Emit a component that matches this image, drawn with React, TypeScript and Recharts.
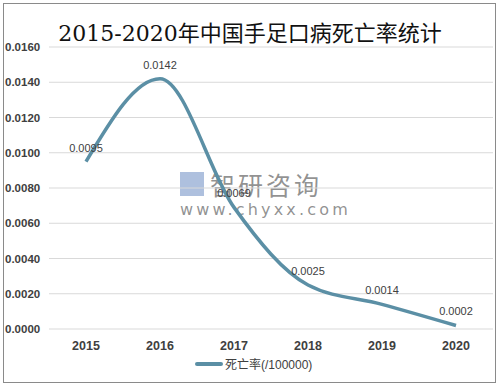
import { LineChart, Line, XAxis, YAxis, CartesianGrid, LabelList } from 'recharts';

const years = ['2015', '2016', '2017', '2018', '2019', '2020'];
const deathRate = [0.0095, 0.0142, 0.0069, 0.0025, 0.0014, 0.0002];
const yTicks = [0, 0.002, 0.004, 0.006, 0.008, 0.01, 0.012, 0.014, 0.016];

const data = years.map((year, i) => ({ year, rate: deathRate[i] }));

const LINE_COLOR = '#5b8fa5';

const YTick = (props: any) => {
    const { y, payload } = props;
    return (
        <text x={5} y={y} dy={4} fontSize={11.5} fontWeight="bold" fill="#404040" fontFamily="Liberation Sans, Arial, sans-serif">
            {payload.value.toFixed(4)}
        </text>
    );
};

const XTick = (props: any) => {
    const { x, y, payload } = props;
    return (
        <text x={x} y={y} dy={13} textAnchor="middle" fontSize={12.5} fontWeight="bold" fill="#404040" fontFamily="Liberation Sans, Arial, sans-serif">
            {payload.value}
        </text>
    );
};

export default function App() {
    return (
        <div style={{ position: 'absolute', left: 0, top: 0, width: 502, height: 386, background: '#fff' }}>
            <div style={{ position: 'absolute', left: 3, top: 3, width: 491, height: 378, border: '1.5px solid #8a8a8a' }} />
            <div style={{
                position: 'absolute', left: 0, top: 15, width: 500, textAlign: 'center',
                fontSize: 22, fontWeight: 'normal', color: '#111',
                fontFamily: '"DejaVu Serif", "Liberation Serif", "Noto Sans CJK SC", serif',
            }}>
                2015-2020年中国手足口病死亡率统计
            </div>
            {/* watermark */}
            <div style={{ position: 'absolute', left: 180, top: 166, color: 'rgba(110,110,110,0.75)', fontFamily: '"Noto Sans CJK SC", sans-serif' }}>
                <div style={{ display: 'flex', alignItems: 'center' }}>
                    <span style={{ display: 'inline-block', width: 24, height: 24, background: 'rgba(120,150,200,0.6)', marginRight: 6 }} />
                    <span style={{ fontSize: 25, letterSpacing: 3 }}>智研咨询</span>
                </div>
                <div style={{ fontSize: 16, letterSpacing: 3.2, marginTop: -2, fontFamily: '"DejaVu Sans", sans-serif' }}>www.chyxx.com</div>
            </div>
            <LineChart width={502} height={386} data={data} margin={{ top: 47, right: 9, bottom: 0, left: 0 }} style={{ position: 'absolute', left: 0, top: 0 }}>
                <CartesianGrid stroke="#d9d9d9" vertical={false} />
                <XAxis dataKey="year" axisLine={false} tickLine={false} tick={<XTick />} height={57} interval={0} padding={{ left: 37, right: 37 }} />
                <YAxis domain={[0, 0.016]} ticks={yTicks} axisLine={false} tickLine={false} width={49} tick={<YTick />} />
                <Line type="monotone" dataKey="rate" stroke={LINE_COLOR} strokeWidth={3.5} dot={false} isAnimationActive={false}>
                    <LabelList dataKey="rate" position="top" offset={10} fontSize={11} fill="#404040" fontFamily="Liberation Sans, Arial, sans-serif" formatter={(v: any) => Number(v).toFixed(4)} />
                </Line>
            </LineChart>
            <div style={{ position: 'absolute', left: 195, top: 355, display: 'flex', alignItems: 'center', fontSize: 12, color: '#404040', fontFamily: '"Liberation Sans", "Noto Sans CJK SC", sans-serif' }}>
                <span style={{ display: 'inline-block', width: 28, height: 4, background: LINE_COLOR, marginRight: 2, borderRadius: 2 }} />
                死亡率(/100000)
            </div>
        </div>
    );
}
